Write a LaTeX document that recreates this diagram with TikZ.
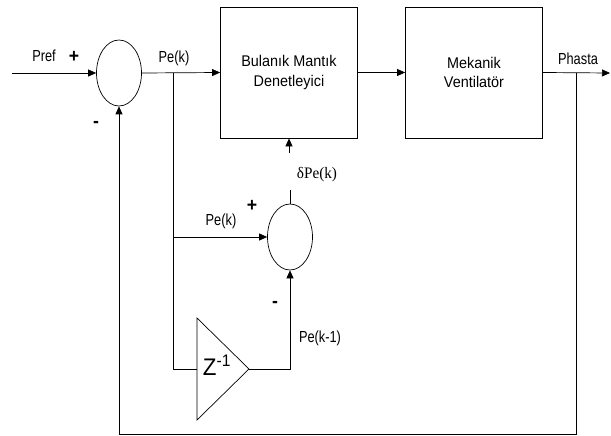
\documentclass[tikz,border=0pt]{standalone}
\usepackage{fontspec}
\setmainfont[FakeStretch=0.93]{Liberation Sans}
\newfontfamily\lblfont[FakeStretch=0.8]{Liberation Sans}
\newfontfamily\deltafont[FakeStretch=0.95]{Liberation Serif}
\usetikzlibrary{arrows.meta,shapes.geometric}
\begin{document}
\begin{tikzpicture}[x=1pt,y=-1pt,
  wire/.style={line width=0.7pt},
  flow/.style={wire,-{Triangle[length=8pt,width=7pt]}},
  blockbox/.style={draw,line width=0.8pt,minimum width=137pt,minimum height=131pt,
    align=center,font=\fontsize{15.5}{19.5}\selectfont},
  sumnode/.style={draw,line width=0.7pt,ellipse,minimum width=45pt,minimum height=66pt,inner sep=0pt},
  lbl/.style={font=\lblfont\fontsize{16}{18}\selectfont,inner sep=0pt},
  sgn/.style={font=\bfseries\fontsize{19}{20}\selectfont,inner sep=0pt}]
\useasboundingbox (0,0) rectangle (611,436);

% summing junctions and blocks
\node[sumnode] (s1) at (119,73) {};
\node[sumnode] (s2) at (290,237) {};
\node[blockbox] (b1) at (289,72.5) {Bulanık Mantık\\Denetleyici};
\node[blockbox] (b2) at (474,72.5) {Mekanik\\Ventilatör};

% unit delay
\coordinate (dl) at (197,369);
\coordinate (dapex) at (249,369);
\draw[wire] (197,318) -- (dapex) -- (197,420) -- cycle;
\node[inner sep=0pt,font=\fontsize{24}{24}\selectfont] (z) at (217,365) {Z\textsuperscript{-1}};

% free ends and branch points
\coordinate (pin) at (12,73);
\coordinate (pout) at (610,73);
\coordinate (br1) at (173,73);
\coordinate (br2) at (576,73);
\coordinate (fb) at (576,434);
\coordinate (dtail) at (289,153);

% forward path
\draw[flow] (pin) -- (s1.west);
\draw[flow] (s1.east) -- (b1.west);
\draw[flow] (b1.east) -- (b2.west);
\draw[flow] (b2.east) -- (pout);

% error branch and delay path
\draw[wire] (br1) |- (dl);
\draw[flow] (br1 |- s2) -- (s2.west);
\draw[flow] (dapex) -| (s2.south);
\draw[wire] (s2.north) -- ++(0,-14);
\draw[flow] (dtail) -- (b1.south);

% feedback
\draw[flow] (br2) -- (fb) -| (s1.south);

% labels
\node[lbl] (tpref) at (44,56) {Pref};
\node[sgn] (p1) at (74,57) {+};
\node[sgn] (m1) at (96,124) {-};
\node[lbl] (tpe1) at (174,58) {Pe(k)};
\node[lbl] (tph) at (578,59) {Phasta};
\node[inner sep=0pt,font=\deltafont\fontsize{16}{18}\selectfont] (tdp) at (317,175) {δPe(k)};
\node[sgn] (p2) at (252,206) {+};
\node[lbl] (tpe2) at (221,221) {Pe(k)};
\node[sgn] (m2) at (275,304) {-};
\node[lbl] (tpe3) at (320,338) {Pe(k-1)};
\end{tikzpicture}
\end{document}
